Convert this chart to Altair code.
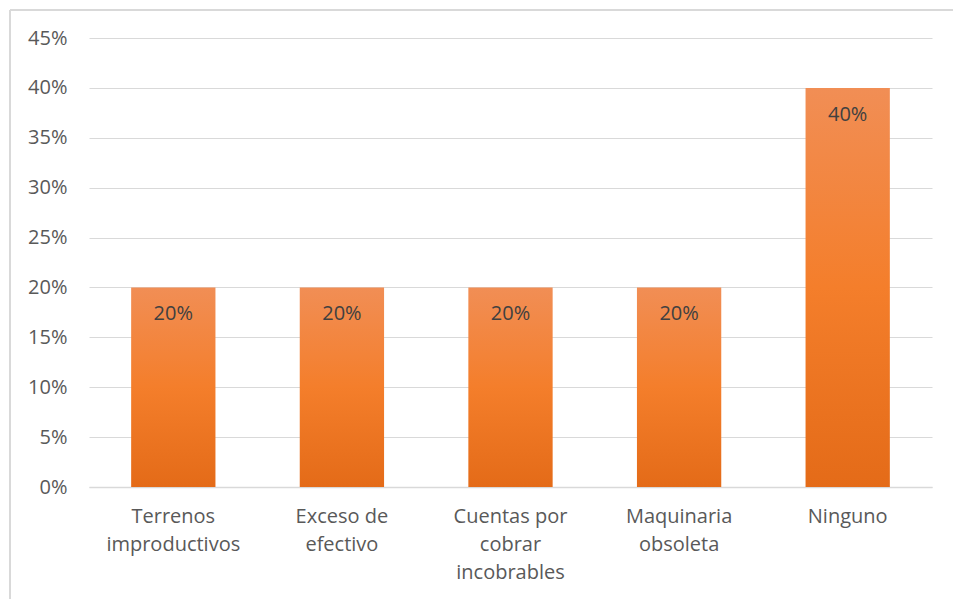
import altair as alt
import pandas as pd

# Categories (line-broken labels) and their shares
categories = [
    "Terrenos\nimproductivos",
    "Exceso de\nefectivo",
    "Cuentas por\ncobrar\nincobrables",
    "Maquinaria\nobsoleta",
    "Ninguno",
]
shares = [0.20, 0.20, 0.20, 0.20, 0.40]
y_ticks = [0, 0.05, 0.10, 0.15, 0.20, 0.25, 0.30, 0.35, 0.40, 0.45]

df = pd.DataFrame({"categoria": categories, "valor": shares})
df["etiqueta"] = [f"{round(v * 100)}%" for v in shares]

FONT = "Open Sans"
FS = 20
W, H = 843, 449
PAD_L, PAD_T = 89, 38

x_enc = alt.X(
    "categoria:N",
    sort=categories,
    scale=alt.Scale(paddingInner=0.5, paddingOuter=0.25),
    axis=alt.Axis(
        title=None,
        labelAngle=0,
        labelExpr="split(datum.label, '\\n')",
        labelFont=FONT,
        labelFontSize=FS,
        labelColor="#595959",
        labelPadding=19,
        labelLineHeight=28,
        ticks=False,
        domainColor="#D9D9D9",
        domainWidth=1.5,
        labelBaseline="top",
    ),
)
y_enc = alt.Y(
    "valor:Q",
    scale=alt.Scale(domain=[0, 0.45], nice=False),
    axis=alt.Axis(
        title=None,
        values=y_ticks,
        format=".0%",
        labelFont=FONT,
        labelFontSize=FS,
        labelColor="#595959",
        labelPadding=22,
        ticks=False,
        domain=False,
        grid=True,
        gridColor="#D9D9D9",
        gridWidth=1.2,
    ),
)

bar_fill = alt.Gradient(
    gradient="linear",
    stops=[
        alt.GradientStop(color="#F18E55", offset=0),
        alt.GradientStop(color="#F47E2B", offset=0.5),
        alt.GradientStop(color="#E46B18", offset=1),
    ],
    x1=0, x2=0, y1=0, y2=1,
)

bars = alt.Chart(df).mark_bar(color=bar_fill).encode(x=x_enc, y=y_enc)

labels = alt.Chart(df).mark_text(
    font=FONT, fontSize=FS, color="#404040", baseline="middle", dy=27
).encode(
    x=alt.X("categoria:N", sort=categories),
    y=alt.Y("valor:Q"),
    text="etiqueta:N",
)

# Outer frame of the chart area
frame_top = alt.Chart(df).mark_rule(color="#D9D9D9", strokeWidth=2, clip=False).encode(
    x=alt.value(-PAD_L + 10), x2=alt.value(953 - PAD_L), y=alt.value(-PAD_T + 10)
)
frame_left = alt.Chart(df).mark_rule(color="#D9D9D9", strokeWidth=2, clip=False).encode(
    x=alt.value(-PAD_L + 10), y=alt.value(-PAD_T + 10), y2=alt.value(599 - PAD_T)
)

chart = (
    alt.layer(bars, labels, frame_top, frame_left)
    .properties(
        width=W,
        height=H,
        autosize=alt.AutoSizeParams(type="none"),
        padding={"left": PAD_L, "top": PAD_T, "right": 953 - PAD_L - W, "bottom": 599 - PAD_T - H},
        background="white",
    )
    .configure_view(stroke=None)
)

chart.save("out.html", embed_options={"renderer": "svg", "actions": False})
